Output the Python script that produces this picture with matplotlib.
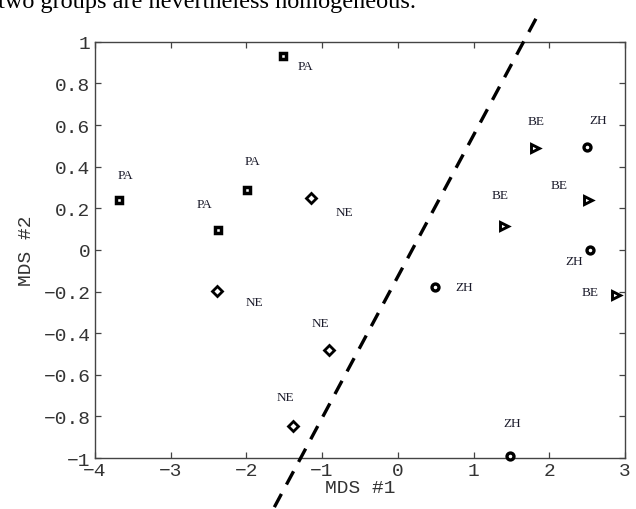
import numpy as np
import matplotlib
matplotlib.use('Agg')
import matplotlib.pyplot as plt
from matplotlib.ticker import FuncFormatter

# MDS coordinates per city group
pa_x = [-3.68, -2.38, -1.99, -1.52]
pa_y = [0.242, 0.098, 0.29, 0.934]
pa_lx = [-3.59, -2.55, -1.92, -1.22]
pa_ly = [0.36, 0.22, 0.425, 0.883]

ne_x = [-1.145, -2.39, -0.91, -1.38]
ne_y = [0.25, -0.196, -0.48, -0.845]
ne_lx = [-0.71, -1.89, -1.02, -1.485]
ne_ly = [0.184, -0.25, -0.352, -0.705]

be_x = [1.805, 2.51, 1.395, 2.88]
be_y = [0.489, 0.242, 0.117, -0.216]
be_lx = [1.83, 2.13, 1.355, 2.54]
be_ly = [0.62, 0.31, 0.266, -0.2]

zh_x = [2.49, 2.53, 0.485, 1.475]
zh_y = [0.494, 0.0, -0.176, -0.99]
zh_lx = [2.64, 2.33, 0.87, 1.51]
zh_ly = [0.626, -0.055, -0.18, -0.83]

# separating line y = slope*(x - x0)
sep_slope = 0.68
sep_x0 = 0.188
sep_xs = [-1.63, 1.885]

fig = plt.figure(figsize=(6.36, 5.10), dpi=100)
ax = fig.add_axes([0.149, 0.1, 0.834, 0.816])

groups = [
    ('PA', pa_x, pa_y, pa_lx, pa_ly, 's', 4.7, 2.5),
    ('NE', ne_x, ne_y, ne_lx, ne_ly, 'D', 4.6, 2.0),
    ('BE', be_x, be_y, be_lx, be_ly, '>', 5.4, 2.1),
    ('ZH', zh_x, zh_y, zh_lx, zh_ly, 'o', 5.0, 2.4),
]
for name, xs, ys, lxs, lys, mk, ms, mew in groups:
    ax.plot(xs, ys, ls='none', marker=mk, ms=ms, mew=mew,
            mec='black', mfc='white', clip_on=False, zorder=3)
    for lx, ly in zip(lxs, lys):
        ax.text(lx, ly, name, family='Liberation Serif', fontsize=9.5,
                color='#1a1a2a', ha='center', va='center')

sx = np.array(sep_xs)
ax.plot(sx, sep_slope * (sx - sep_x0), color='black', lw=2.4,
        dashes=(4.5, 3.2), clip_on=False, zorder=4)

ax.set_xlim(-4, 3)
ax.set_ylim(-1, 1)
ax.set_xticks(np.arange(-4, 4, 1))
ax.set_yticks(np.linspace(-1, 1, 11))

fmt = FuncFormatter(lambda v, p: ('%g' % round(v, 2)).replace('-', '\u2212'))
ax.xaxis.set_major_formatter(fmt)
ax.yaxis.set_major_formatter(fmt)

tick_col = '#333333'
for sp in ax.spines.values():
    sp.set_color('#444444')
    sp.set_linewidth(1.0)
ax.tick_params(direction='in', length=4, width=0.9, top=True, right=True,
               colors='#444444', labelcolor=tick_col, labelsize=14, pad=3)
for lab in ax.get_xticklabels() + ax.get_yticklabels():
    lab.set_family('Liberation Mono')

ax.set_xlabel('MDS #1', family='Liberation Mono', fontsize=14,
              color=tick_col, labelpad=0)
ax.set_ylabel('MDS #2', family='Liberation Mono', fontsize=14,
              color=tick_col, labelpad=6)

# caption text of the page, cut by the top edge
fig.text(-0.003, 1 - 8 / 510, 'two groups are nevertheless homogeneous.',
         family='Liberation Serif', fontsize=17.5, color='black',
         ha='left', va='baseline')

fig.savefig('out.png', dpi=100)
